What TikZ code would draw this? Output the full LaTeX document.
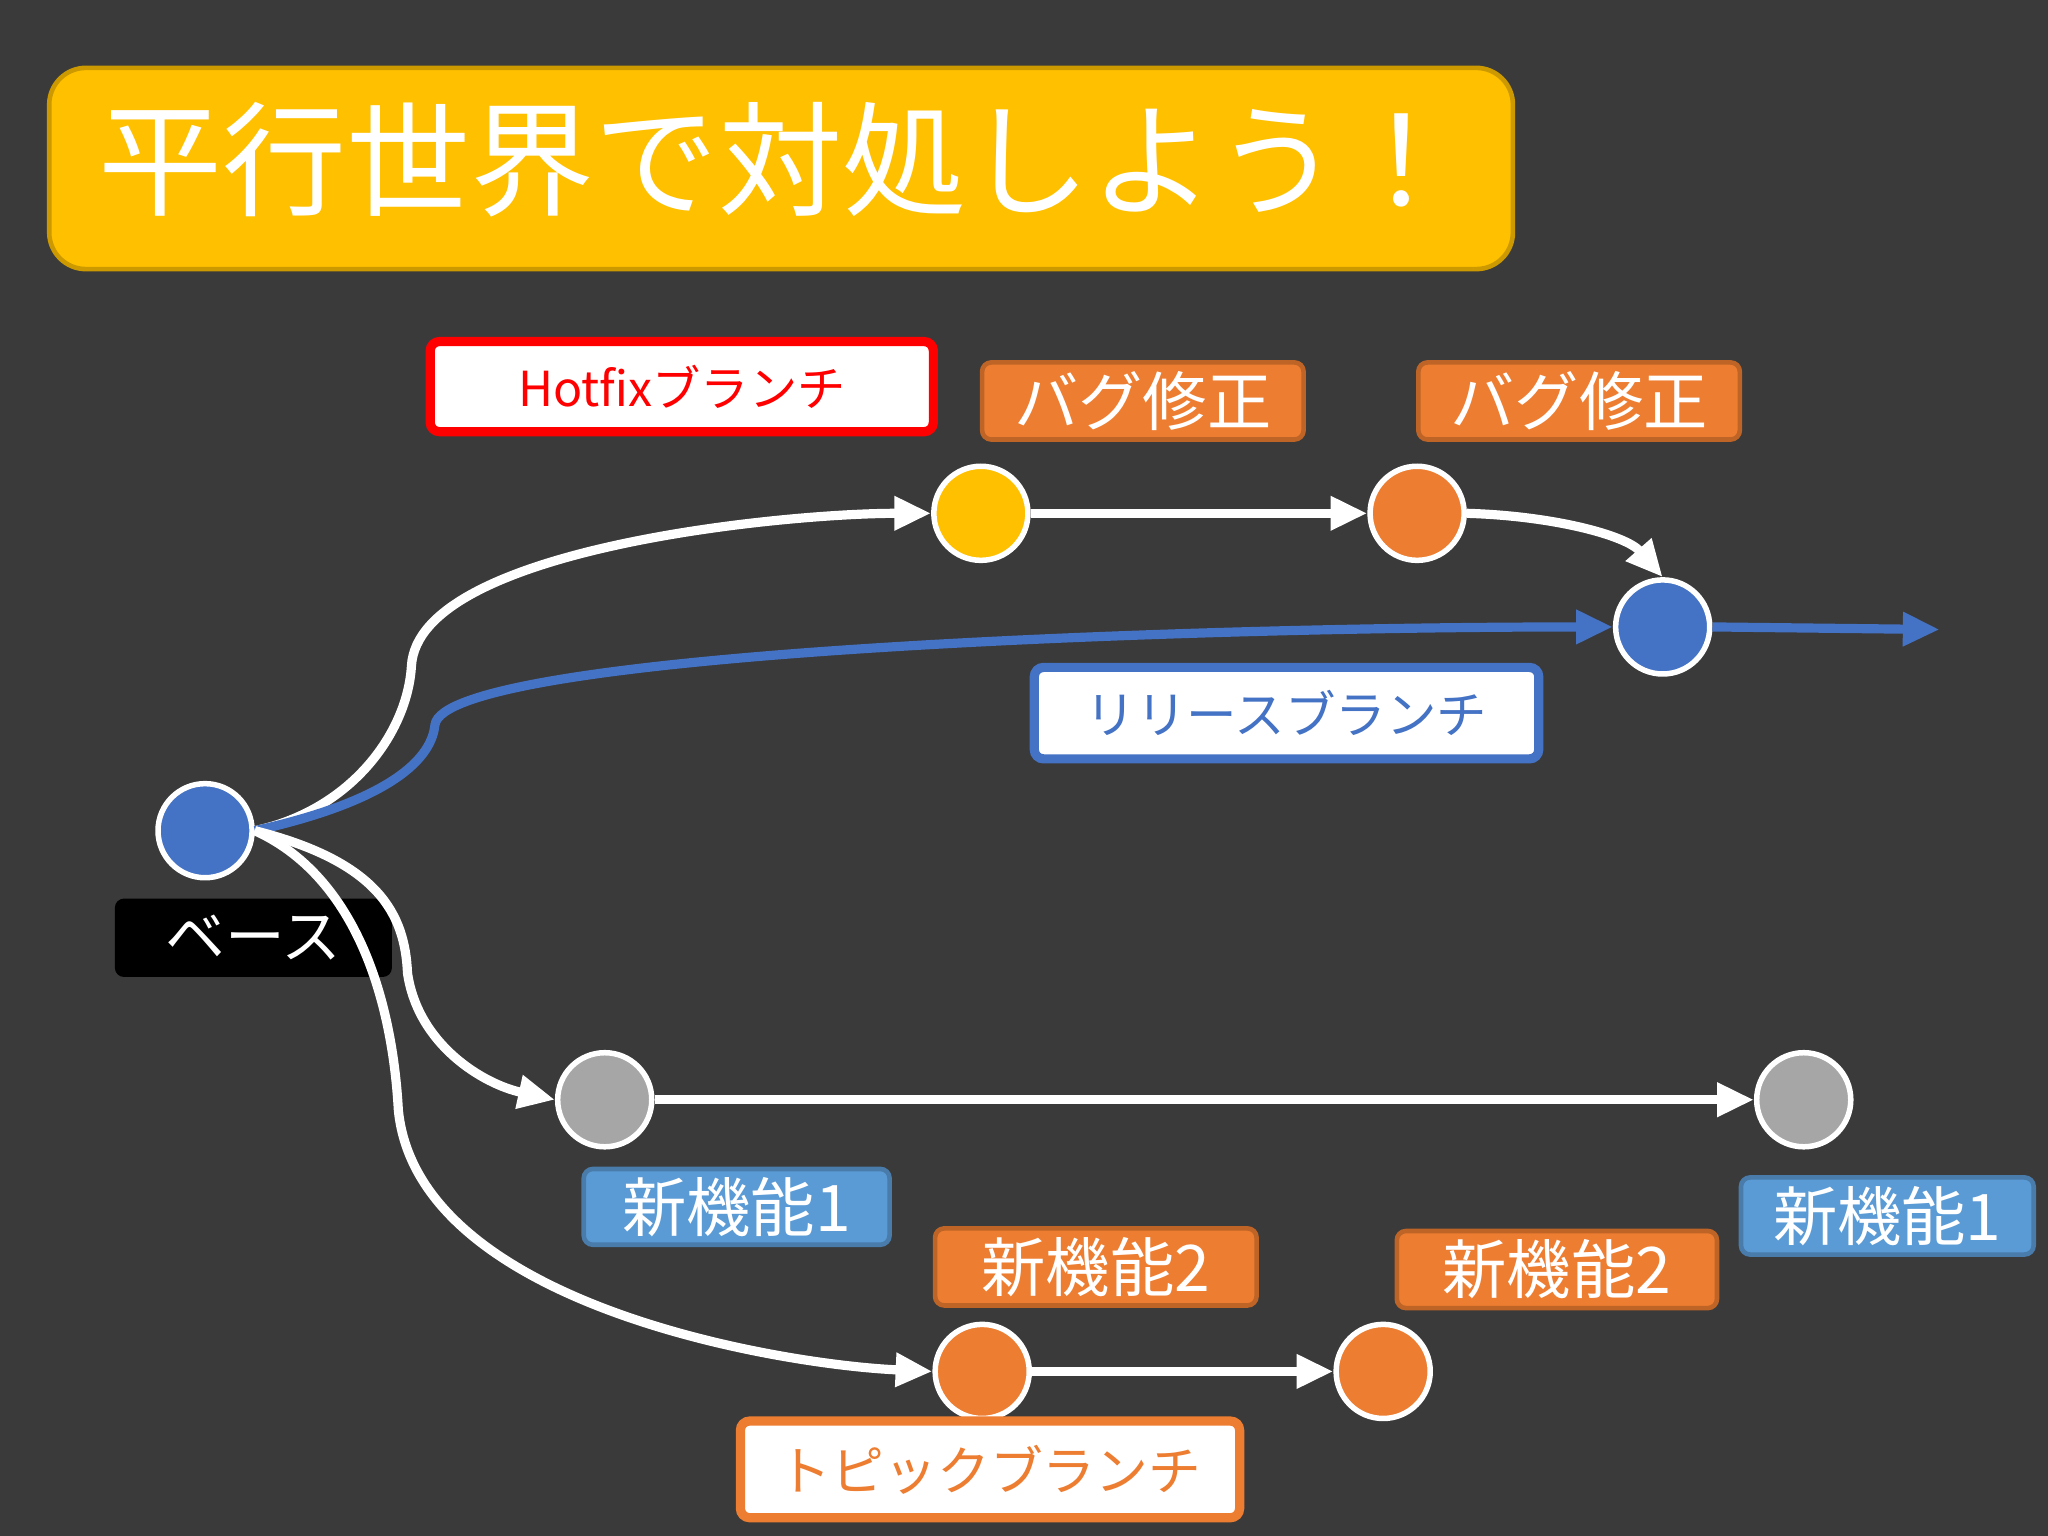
\documentclass[tikz,border=0pt]{standalone}
\usepackage{fontspec}
\setmainfont{Noto Sans CJK JP}
\usetikzlibrary{arrows.meta}
\definecolor{bg}{HTML}{3A3A3A}
\definecolor{yel}{HTML}{FFC000}
\definecolor{org}{HTML}{ED7D31}
\definecolor{blu}{HTML}{4472C4}
\definecolor{lbl}{HTML}{5B9BD5}
\definecolor{gry}{HTML}{A6A6A6}
\begin{document}
\begin{tikzpicture}[x=0.01cm,y=-0.01cm,
 dot/.style={circle,draw=white,line width=1.2pt,minimum size=0.72cm,inner sep=0},
 box/.style={rectangle,rounded corners=2pt,inner sep=0,line width=1pt},
 wl/.style={white,line width=2pt,-{Triangle[length=8pt,width=7pt]}},
 bl/.style={blu,line width=2pt,-{Triangle[length=8pt,width=7pt]}}]
\fill[bg] (0,0) rectangle (1568,1176);
\useasboundingbox (0,0) rectangle (1568,1176);
\node[box,fill=yel,draw=yel!80!black,rounded corners=8pt,minimum width=11.2cm,minimum height=1.54cm] (title) at (598,129) {};
\node[anchor=west,inner sep=0,text=white,font=\fontsize{27}{30}\selectfont] (tt) at (75,122) {平行世界で対処しよう！};
\node[dot,fill=blu] (base) at (157,636) {};
\node[dot,fill=yel] (y1) at (751,393) {};
\node[dot,fill=org] (o1) at (1085,393) {};
\node[dot,fill=blu] (r) at (1273,480) {};
\node[dot,fill=gry] (g1) at (463,842) {};
\node[dot,fill=gry] (g2) at (1381,842) {};
\node[dot,fill=org] (t1) at (752,1050) {};
\node[dot,fill=org] (t2) at (1059,1050) {};
\coordinate (rend) at (1485,482);
% labels
\node[box,fill=white,draw=red,line width=2pt,minimum width=3.85cm,minimum height=0.69cm,text=red,font=\fontsize{10.5}{12}\selectfont] (hf) at (522,296) {Hotfixブランチ};
\node[box,fill=org,draw=org!80!black,minimum width=2.46cm,minimum height=0.59cm,text=white,font=\fontsize{14}{16}\selectfont] (b1) at (875,307) {バグ修正};
\node[box,fill=org,draw=org!80!black,minimum width=2.46cm,minimum height=0.59cm,text=white,font=\fontsize{14}{16}\selectfont] (b2) at (1209,307) {バグ修正};
\node[box,fill=white,draw=blu,line width=2pt,minimum width=3.86cm,minimum height=0.7cm,text=blu,font=\fontsize{11}{13}\selectfont] (rl) at (985,546) {リリースブランチ};
\node[box,fill=black,minimum width=2.12cm,minimum height=0.6cm,text=white,font=\fontsize{13}{15}\selectfont] (bs) at (194,718) {ベース};
\node[box,fill=lbl,draw=lbl!80!black,minimum width=2.34cm,minimum height=0.58cm,text=white,font=\fontsize{14}{16}\selectfont] (n1) at (564,924) {新機能1};
\node[box,fill=lbl,draw=lbl!80!black,minimum width=2.24cm,minimum height=0.59cm,text=white,font=\fontsize{14}{16}\selectfont] (n1b) at (1445,931) {新機能1};
\node[box,fill=org,draw=org!80!black,minimum width=2.46cm,minimum height=0.59cm,text=white,font=\fontsize{14}{16}\selectfont] (n2) at (839,970) {新機能2};
\node[box,fill=org,draw=org!80!black,minimum width=2.45cm,minimum height=0.59cm,text=white,font=\fontsize{14}{16}\selectfont] (n2b) at (1192,972) {新機能2};
\node[box,fill=white,draw=org,line width=2pt,minimum width=3.82cm,minimum height=0.74cm,text=org,font=\fontsize{11.5}{13}\selectfont] (tp) at (758,1125) {トピックブランチ};
% connectors
\draw[wl] (base.east) .. controls (270,620) and (312,560) .. (315,510) .. controls (320,420) and (600,393) .. (y1.west);
\draw[wl] (y1) -- (o1);
\draw[wl] (o1.east) .. controls (1190,395) and (1245,410) .. (r.north);
\draw[bl] (base.east) .. controls (290,615) and (330,585) .. (333,555) .. controls (340,500) and (900,480) .. (r.west);
\draw[bl] (r.east) -- (rend);
\draw[wl] (base.east) .. controls (290,660) and (310,700) .. (312,745) .. controls (320,800) and (370,830) .. (g1.west);
\draw[wl] (g1) -- (g2);
\draw[wl] (base.east) .. controls (270,670) and (300,760) .. (305,850) .. controls (320,1000) and (600,1045) .. (t1.west);
\draw[wl] (t1) -- (t2);
\end{tikzpicture}
\end{document}
